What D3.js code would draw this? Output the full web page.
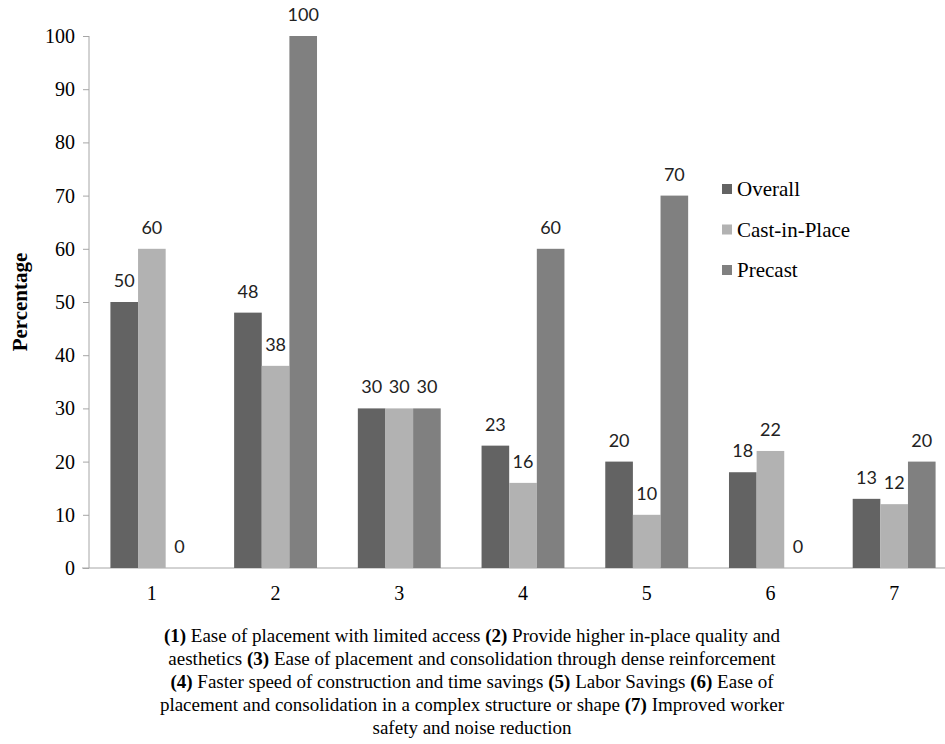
<!DOCTYPE html>
<html>
<head>
<meta charset="utf-8">
<script src="https://cdn.jsdelivr.net/npm/d3@7"></script>
<style>
  body { margin: 0; background: #fff; }
  svg { display: block; }
</style>
</head>
<body>
<div id="chart"></div>
<script>
var categories = ["1", "2", "3", "4", "5", "6", "7"];
var seriesNames = ["Overall", "Cast-in-Place", "Precast"];
var overall = [50, 48, 30, 23, 20, 18, 13];
var castInPlace = [60, 38, 30, 16, 10, 22, 12];
var precast = [0, 100, 30, 60, 70, 0, 20];
var yTicks = [0, 10, 20, 30, 40, 50, 60, 70, 80, 90, 100];
var captionLines = [
    [["(1)", true], [" Ease of placement with limited access ", false], ["(2)", true], [" Provide higher in-place quality and", false]],
    [["aesthetics ", false], ["(3)", true], [" Ease of placement and consolidation through dense reinforcement", false]],
    [["(4)", true], [" Faster speed of construction and time savings ", false], ["(5)", true], [" Labor Savings ", false], ["(6)", true], [" Ease of", false]],
    [["placement and consolidation in a complex structure or shape ", false], ["(7)", true], [" Improved worker", false]],
    [["safety and noise reduction", false]]
];

var colors = ["#636363", "#b2b2b2", "#808080"];
var series = [overall, castInPlace, precast];

var W = 945, H = 744;
var svg = d3.select("#chart").append("svg").attr("width", W).attr("height", H);

var serif = "'Liberation Serif', 'Times New Roman', serif";
var sans = "Lato, 'Open Sans', sans-serif";

var x = d3.scaleBand().domain(categories).range([90, 956]).paddingInner(0.33).paddingOuter(0.165);
var x1 = d3.scaleBand().domain(d3.range(3)).range([0, x.bandwidth()]);
var y = d3.scaleLinear().domain([0, 100]).range([568, 36]);

// y axis
var yAxis = svg.append("g").attr("transform", "translate(89,0)")
    .call(d3.axisLeft(y).tickValues(yTicks).tickSize(6).tickPadding(8));
yAxis.selectAll("path, line").attr("stroke", "#a6a6a6");
yAxis.select(".domain").attr("d", "M0," + y(100) + "V" + y(0));
yAxis.selectAll("text").attr("font-family", serif).attr("font-size", 20).attr("fill", "#000");

// x axis line
svg.append("line").attr("x1", 82).attr("x2", W).attr("y1", y(0)).attr("y2", y(0))
    .attr("stroke", "#a6a6a6");

// x labels
svg.selectAll(".xlab").data(categories).enter().append("text")
    .attr("x", function (d) { return x(d) + x.bandwidth() / 2; })
    .attr("y", 600)
    .attr("text-anchor", "middle")
    .attr("font-family", serif).attr("font-size", 20)
    .text(function (d) { return d; });

// bars and labels
series.forEach(function (vals, s) {
    var g = svg.append("g");
    g.selectAll("rect").data(vals).enter().append("rect")
        .attr("x", function (d, i) { return x(categories[i]) + x1(s); })
        .attr("width", x1.bandwidth())
        .attr("y", function (d) { return y(d); })
        .attr("height", function (d) { return y(0) - y(d); })
        .attr("fill", colors[s]);
    g.selectAll("text").data(vals).enter().append("text")
        .attr("x", function (d, i) { return x(categories[i]) + x1(s) + x1.bandwidth() / 2; })
        .attr("y", function (d) { return y(d) - 15; })
        .attr("text-anchor", "middle")
        .attr("font-family", sans).attr("font-size", 18).attr("fill", "#222")
        .text(function (d) { return d; });
});

// y title
svg.append("text")
    .attr("transform", "translate(27,302) rotate(-90)")
    .attr("text-anchor", "middle")
    .attr("font-family", serif).attr("font-size", 21).attr("font-weight", "bold")
    .text("Percentage");

// legend
var legend = svg.append("g");
seriesNames.forEach(function (name, i) {
    var ly = 189 + i * 40.5;
    legend.append("rect").attr("x", 722).attr("y", ly - 5).attr("width", 10).attr("height", 10).attr("fill", colors[i]);
    legend.append("text").attr("x", 737).attr("y", ly + 7)
        .attr("font-family", serif).attr("font-size", 21).text(name);
});

// caption
var cap = svg.append("g");
captionLines.forEach(function (parts, i) {
    var t = cap.append("text")
        .attr("x", 472).attr("y", 642 + i * 23)
        .attr("text-anchor", "middle")
        .attr("font-family", serif).attr("font-size", 19);
    parts.forEach(function (p) {
        t.append("tspan").attr("font-weight", p[1] ? "bold" : "normal").text(p[0]);
    });
});
</script>
</body>
</html>
